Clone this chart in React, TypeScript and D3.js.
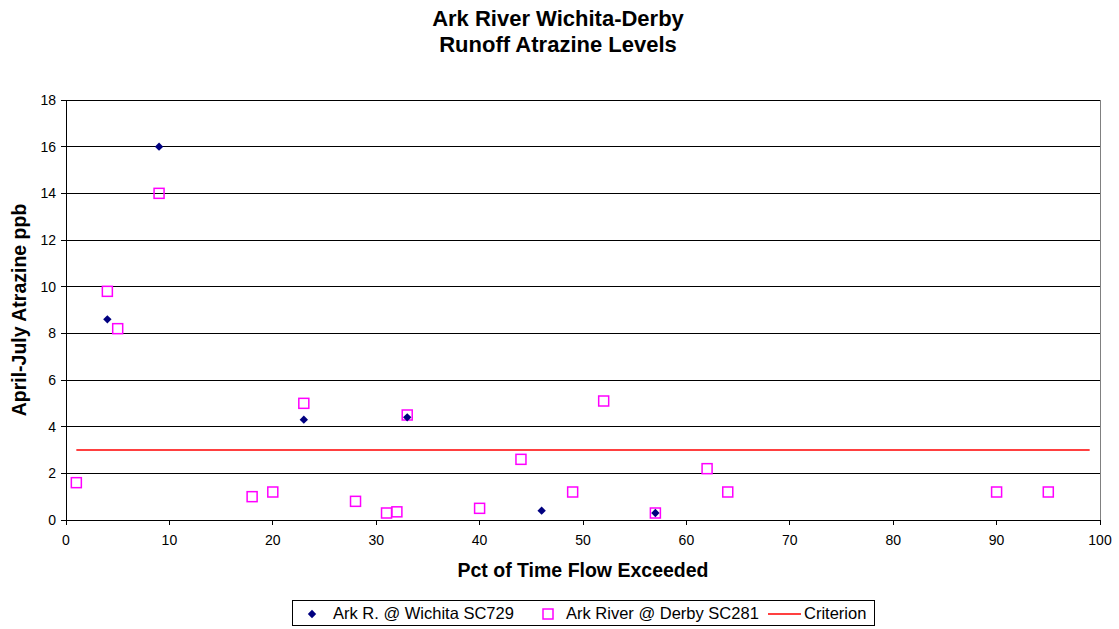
import React from "react";
import * as d3 from "d3";

const wichitaX = [4, 9, 23, 33, 46, 57];
const wichitaY = [8.6, 16, 4.3, 4.4, 0.4, 0.3];
const derbyX = [1, 4, 5, 9, 18, 20, 23, 28, 31, 32, 33, 40, 44, 49, 52, 57, 62, 64, 90, 95];
const derbyY = [1.6, 9.8, 8.2, 14, 1.0, 1.2, 5.0, 0.8, 0.3, 0.35, 4.5, 0.5, 2.6, 1.2, 5.1, 0.3, 2.2, 1.2, 1.2, 1.2];
const criterionX = [1, 99];
const criterionY = [3, 3];
const xTicks = [0, 10, 20, 30, 40, 50, 60, 70, 80, 90, 100];
const yTicks = [0, 2, 4, 6, 8, 10, 12, 14, 16, 18];

const W = 1119, H = 629;
const font = "Arial, 'Liberation Sans', sans-serif";

export default function App() {
  const x = d3.scaleLinear().domain([0, 100]).range([66, 1100]);
  const y = d3.scaleLinear().domain([0, 18]).range([520, 100]);
  const line = d3.line<number>().x((d) => x(criterionX[d])).y((d) => y(criterionY[d]));
  const diamond = (cx: number, cy: number, r: number) =>
    `M${cx},${cy - r}L${cx + r},${cy}L${cx},${cy + r}L${cx - r},${cy}Z`;
  return (
    <svg width={W} height={H} style={{ position: "absolute", left: 0, top: 0, background: "#fff" }} fontFamily={font}>
      <rect x={0} y={0} width={W} height={H} fill="#fff" />
      <text x={558} y={26} textAnchor="middle" fontSize={22} fontWeight="bold">Ark River Wichita-Derby</text>
      <text x={558} y={52} textAnchor="middle" fontSize={22} fontWeight="bold">Runoff Atrazine Levels</text>
      {yTicks.filter((t) => t > 0).map((t) => (
        <line key={"g" + t} x1={x(0)} x2={x(100)} y1={y(t)} y2={y(t)} stroke="#000" strokeWidth={1} shapeRendering="crispEdges" />
      ))}
      <line x1={x(100)} x2={x(100)} y1={y(18)} y2={y(0)} stroke="#808080" strokeWidth={1} shapeRendering="crispEdges" />
      <line x1={x(0)} x2={x(0)} y1={y(18)} y2={y(0)} stroke="#000" strokeWidth={1} shapeRendering="crispEdges" />
      <line x1={x(0)} x2={x(100)} y1={y(0)} y2={y(0)} stroke="#000" strokeWidth={1} shapeRendering="crispEdges" />
      {yTicks.map((t) => (
        <g key={"y" + t}>
          <line x1={x(0) - 5} x2={x(0)} y1={y(t)} y2={y(t)} stroke="#000" shapeRendering="crispEdges" />
          <text x={x(0) - 10} y={y(t) + 5} textAnchor="end" fontSize={14}>{t}</text>
        </g>
      ))}
      {xTicks.map((t) => (
        <g key={"x" + t}>
          <line x1={x(t)} x2={x(t)} y1={y(0)} y2={y(0) + 5} stroke="#000" shapeRendering="crispEdges" />
          <text x={x(t)} y={y(0) + 25} textAnchor="middle" fontSize={14}>{t}</text>
        </g>
      ))}
      <text x={583} y={577} textAnchor="middle" fontSize={19.5} fontWeight="bold">Pct of Time Flow Exceeded</text>
      <text transform={`translate(26,310) rotate(-90)`} textAnchor="middle" fontSize={19.5} fontWeight="bold">April-July Atrazine ppb</text>
      <path d={line([0, 1]) || ""} stroke="#ff0000" strokeWidth={1.5} fill="none" />
      {derbyX.map((dx, i) => (
        <rect key={"d" + i} x={x(dx) - 5} y={y(derbyY[i]) - 5} width={10} height={10} fill="none" stroke="#ff00ff" strokeWidth={1.5} />
      ))}
      {wichitaX.map((wx, i) => (
        <path key={"w" + i} d={diamond(x(wx), y(wichitaY[i]), 4.2)} fill="#000080" />
      ))}
      <rect x={292.5} y={600.5} width={582} height={25} fill="#fff" stroke="#000" strokeWidth={1} />
      <path d={diamond(312, 614, 4.2)} fill="#000080" />
      <text x={333} y={619} fontSize={16.5}>Ark R. @ Wichita SC729</text>
      <rect x={543} y={609} width={10} height={10} fill="none" stroke="#ff00ff" strokeWidth={1.5} />
      <text x={566} y={619} fontSize={16.5}>Ark River @ Derby SC281</text>
      <line x1={768} x2={801} y1={614} y2={614} stroke="#ff0000" strokeWidth={1.5} />
      <text x={804} y={619} fontSize={16.5}>Criterion</text>
    </svg>
  );
}
